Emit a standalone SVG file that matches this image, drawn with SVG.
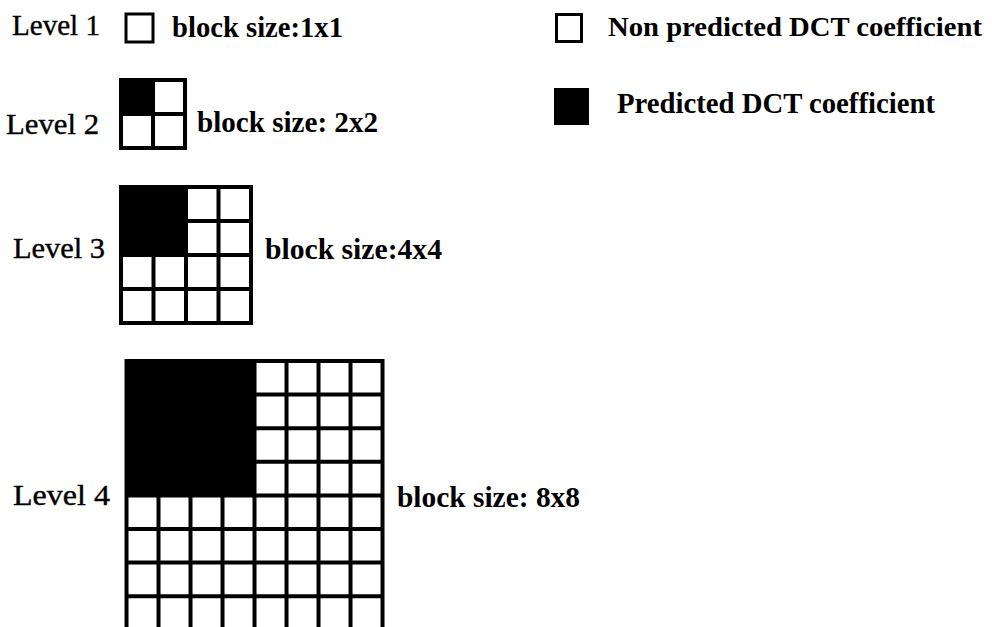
<svg xmlns="http://www.w3.org/2000/svg" width="992" height="627" viewBox="0 0 992 627">
<style>
.lv{font-family:"Liberation Serif","Times New Roman",serif;font-size:30px;fill:#000;stroke:#000;stroke-width:0.4}
.bs{font-family:"Liberation Serif","Times New Roman",serif;font-size:30px;font-weight:bold;fill:#000}
.g{fill:none;stroke:#000;stroke-width:4;stroke-linecap:square}
.box{fill:#fff;stroke:#000;stroke-width:3}
</style>
<rect width="992" height="627" fill="#fff"/>
<g id="level1">
<text class="lv" x="12" y="35" textLength="88" lengthAdjust="spacingAndGlyphs">Level 1</text>
<rect class="box" x="126" y="14" width="27" height="28"/>
<text class="bs" x="172" y="37" textLength="171" lengthAdjust="spacingAndGlyphs">block size:1x1</text>
</g>
<g id="level2">
<text class="lv" x="6" y="134" textLength="93" lengthAdjust="spacingAndGlyphs">Level 2</text>
<rect x="121" y="80" width="32" height="34" fill="#000"/>
<path class="g" d="M121 80H185V148H121Z M153 80V148 M121 114H185"/>
<text class="bs" x="197" y="132" textLength="181" lengthAdjust="spacingAndGlyphs">block size: 2x2</text>
</g>
<g id="level3">
<text class="lv" x="13" y="258" textLength="92" lengthAdjust="spacingAndGlyphs">Level 3</text>
<rect x="121" y="187" width="65" height="68" fill="#000"/>
<path class="g" d="M121 187H251V323H121Z M153.5 255V323 M186 187V323 M218.5 187V323 M186 221H251 M121 255H251 M121 289H251"/>
<text class="bs" x="265" y="259" textLength="177" lengthAdjust="spacingAndGlyphs">block size:4x4</text>
</g>
<g id="level4">
<text class="lv" x="13" y="505" textLength="97" lengthAdjust="spacingAndGlyphs">Level 4</text>
<rect x="126.5" y="361" width="128" height="134.4" fill="#000"/>
<path class="g" d="M126.5 640V361H382.5V640 M158.5 495.4V640 M190.5 495.4V640 M222.5 495.4V640 M254.5 361V640 M286.5 361V640 M318.5 361V640 M350.5 361V640 M254.5 394.6H382.5 M254.5 428.2H382.5 M254.5 461.8H382.5 M126.5 495.4H382.5 M126.5 529H382.5 M126.5 562.6H382.5 M126.5 596.2H382.5"/>
<text class="bs" x="397" y="507" textLength="183" lengthAdjust="spacingAndGlyphs">block size: 8x8</text>
</g>
<g id="legend">
<rect class="box" x="556.5" y="14.5" width="25" height="27"/>
<text class="bs" x="608" y="36" font-size="28" textLength="374" lengthAdjust="spacingAndGlyphs" style="font-size:28px">Non predicted DCT coefficient</text>
<rect x="554" y="88" width="35" height="37" fill="#000"/>
<text class="bs" x="617" y="113" textLength="318" lengthAdjust="spacingAndGlyphs">Predicted DCT coefficient</text>
</g>
</svg>
